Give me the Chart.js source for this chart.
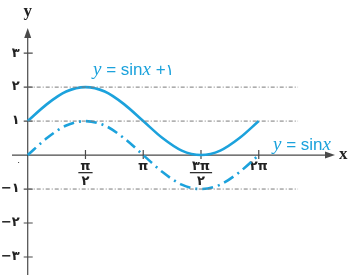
<!DOCTYPE html>
<html>
<head>
<meta charset="utf-8">
<script src="https://cdn.jsdelivr.net/npm/chart.js@4/dist/chart.umd.min.js"></script>
<style>
html,body{margin:0;padding:0;background:#fff;}
</style>
</head>
<body>
<canvas id="graph" width="352" height="278"></canvas>
<script>
// x values are in units of pi
const xPoints = [0, 1/6, 2/6, 3/6, 4/6, 5/6, 1, 7/6, 8/6, 9/6, 10/6, 11/6, 2];
const sinValues = [0, 0.5, 0.87, 1, 0.87, 0.5, 0, -0.5, -0.87, -1, -0.87, -0.5, 0];
const sinPlusOneValues = [1, 1.5, 1.87, 2, 1.87, 1.5, 1, 0.5, 0.13, 0, 0.13, 0.5, 1];
const guideLevels = [2, 1, -1];
const guideEnd = 2.34;
const xTicks = [0.5, 1, 1.5, 2];
const xTickLabels = [['π', '۲'], ['π'], ['۳π', '۲'], ['۲π']];
const yTicks = [3, 2, 1, -1, -2, -3];
const yTickLabels = ['۳', '۲', '۱', '−۱', '−۲', '−۳'];

const blue = '#1ca2dc';
const axisColor = '#4a4a4a';

function drawParts(ctx, parts, x, y) {
    parts.forEach(p => {
        ctx.font = p.f;
        ctx.fillText(p.t, x, y);
        x += ctx.measureText(p.t).width;
    });
}

const axesPlugin = {
    id: 'axes',
    beforeDatasetsDraw(chart) {
        const ctx = chart.ctx;
        const sx = chart.scales.x, sy = chart.scales.y;
        const x0 = sx.getPixelForValue(0), y0 = sy.getPixelForValue(0);
        ctx.save();
        ctx.strokeStyle = axisColor;
        ctx.fillStyle = axisColor;
        ctx.lineWidth = 1.2;
        ctx.beginPath();
        ctx.moveTo(sx.left, y0); ctx.lineTo(sx.right - 6, y0);
        ctx.moveTo(x0, sy.bottom); ctx.lineTo(x0, sy.top + 6);
        ctx.stroke();
        // arrow heads
        ctx.beginPath();
        ctx.moveTo(sx.right, y0); ctx.lineTo(sx.right - 10, y0 - 3.5); ctx.lineTo(sx.right - 10, y0 + 3.5);
        ctx.closePath(); ctx.fill();
        ctx.beginPath();
        ctx.moveTo(x0, sy.top); ctx.lineTo(x0 - 3.5, sy.top + 10); ctx.lineTo(x0 + 3.5, sy.top + 10);
        ctx.closePath(); ctx.fill();

        // tick marks
        ctx.beginPath();
        xTicks.forEach(v => {
            const px = sx.getPixelForValue(v);
            ctx.moveTo(px, y0 - 5); ctx.lineTo(px, y0 + 4);
        });
        yTicks.forEach(v => {
            const py = sy.getPixelForValue(v);
            ctx.moveTo(x0 - 4, py); ctx.lineTo(x0 + 5, py);
        });
        ctx.stroke();

        // tick labels
        ctx.fillStyle = '#222';
        ctx.textBaseline = 'middle';
        ctx.textAlign = 'center';
        ctx.font = 'bold 13px "DejaVu Sans"';
        xTicks.forEach((v, i) => {
            const px = sx.getPixelForValue(v);
            const lab = xTickLabels[i];
            ctx.fillText(lab[0], px, y0 + 12);
            if (lab.length > 1) {
                const w = ctx.measureText(lab[0]).width + 4;
                ctx.fillRect(px - w / 2, y0 + 17, w, 1.2);
                ctx.fillText(lab[1], px, y0 + 27);
            }
        });
        ctx.textAlign = 'right';
        yTicks.forEach((v, i) => {
            ctx.fillText(yTickLabels[i], x0 - 8, sy.getPixelForValue(v));
        });
        ctx.font = '8px "DejaVu Sans"';
        ctx.textAlign = 'center';
        ctx.fillText('۰', x0 - 9, y0 + 8);

        // axis names
        ctx.fillStyle = '#222';
        ctx.font = 'bold 17px "Liberation Serif"';
        ctx.fillText('y', x0, sy.top - 16);
        ctx.textAlign = 'left';
        ctx.fillText('x', sx.right + 4, y0);
        ctx.restore();
    },
    afterDraw(chart) {
        const ctx = chart.ctx;
        ctx.save();
        ctx.fillStyle = blue;
        ctx.textBaseline = 'alphabetic';
        ctx.textAlign = 'left';
        const it = 'italic 19px "Liberation Serif"';
        const rm = '17px "Liberation Sans"';
        drawParts(ctx, [
            {t: 'y', f: it}, {t: ' = ', f: rm}, {t: 'sin', f: rm}, {t: 'x', f: it},
            {t: ' +', f: rm}, {t: '۱', f: '16px "DejaVu Sans"'}
        ], 93, 75);
        drawParts(ctx, [
            {t: 'y', f: it}, {t: ' = ', f: rm}, {t: 'sin', f: rm}, {t: 'x', f: it}
        ], 273, 150);
        ctx.restore();
    }
};

const guideSets = guideLevels.map(level => ({
    data: [{x: 0, y: level}, {x: guideEnd, y: level}],
    borderColor: '#7a7a7a',
    borderWidth: 1,
    borderDash: [4, 2, 1, 2],
    pointRadius: 0
}));

const chart = new Chart('graph', {
    type: 'line',
    data: {
        datasets: guideSets.concat([
            {
                data: xPoints.map((x, i) => ({x: x, y: sinPlusOneValues[i]})),
                borderColor: blue,
                borderWidth: 2.6,
                pointRadius: 0,
                cubicInterpolationMode: 'monotone'
            },
            {
                data: xPoints.map((x, i) => ({x: x, y: sinValues[i]})),
                borderColor: blue,
                borderWidth: 2.6,
                borderDash: [11, 5, 2, 5],
                pointRadius: 0,
                cubicInterpolationMode: 'monotone'
            }
        ])
    },
    options: {
        responsive: false,
        animation: false,
        devicePixelRatio: 1,
        layout: {padding: {left: 12, right: 17, top: 28, bottom: 3}},
        scales: {
            x: {type: 'linear', min: -0.136, max: 2.66, display: false},
            y: {type: 'linear', min: -3.53, max: 3.74, display: false}
        },
        plugins: {legend: {display: false}, tooltip: {enabled: false}}
    },
    plugins: [axesPlugin]
});
</script>
</body>
</html>
